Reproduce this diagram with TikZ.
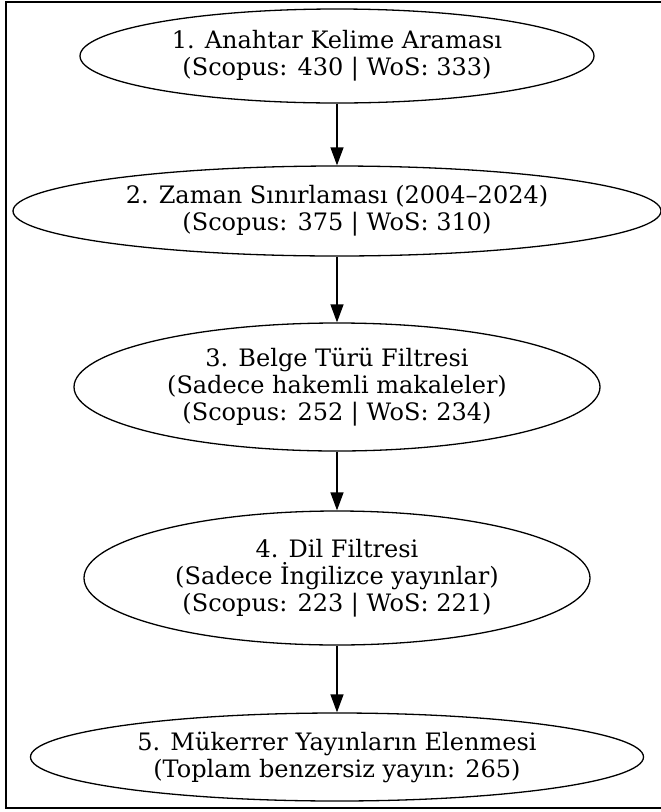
\documentclass[tikz,border=0pt]{standalone}
\usepackage{fontspec}
\setmainfont{DejaVu Serif}
\usetikzlibrary{shapes.geometric,arrows.meta}
\begin{document}
\begin{tikzpicture}[x=1pt,y=-1pt,
  stage/.style={ellipse,draw,line width=1.3pt,inner sep=0pt,align=center,
    font=\fontsize{24}{27}\selectfont},
  flow/.style={line width=1.3pt,-{Triangle[length=18pt,width=13pt]}}]
\useasboundingbox (0,0) rectangle (661,812);
\draw[line width=2pt] (6,2) rectangle (666,808);
\node[stage,minimum width=514pt,minimum height=94pt] (e1) at (337,56)
  {1. Anahtar Kelime Araması\\(Scopus: 430 | WoS: 333)};
\node[stage,minimum width=648pt,minimum height=90pt] (e2) at (337,211)
  {2. Zaman Sınırlaması (2004–2024)\\(Scopus: 375 | WoS: 310)};
\node[stage,minimum width=526pt,minimum height=128pt] (e3) at (337,387)
  {3. Belge Türü Filtresi\\(Sadece hakemli makaleler)\\(Scopus: 252 | WoS: 234)};
\node[stage,minimum width=506pt,minimum height=134pt] (e4) at (337,578)
  {4. Dil Filtresi\\(Sadece İngilizce yayınlar)\\(Scopus: 223 | WoS: 221)};
\node[stage,minimum width=613pt,minimum height=88pt] (e5) at (337,757)
  {5. Mükerrer Yayınların Elenmesi\\(Toplam benzersiz yayın: 265)};
\draw[flow] (e1) -- (e2);
\draw[flow] (e2) -- (e3);
\draw[flow] (e3) -- (e4);
\draw[flow] (e4) -- (e5);
\end{tikzpicture}
\end{document}
